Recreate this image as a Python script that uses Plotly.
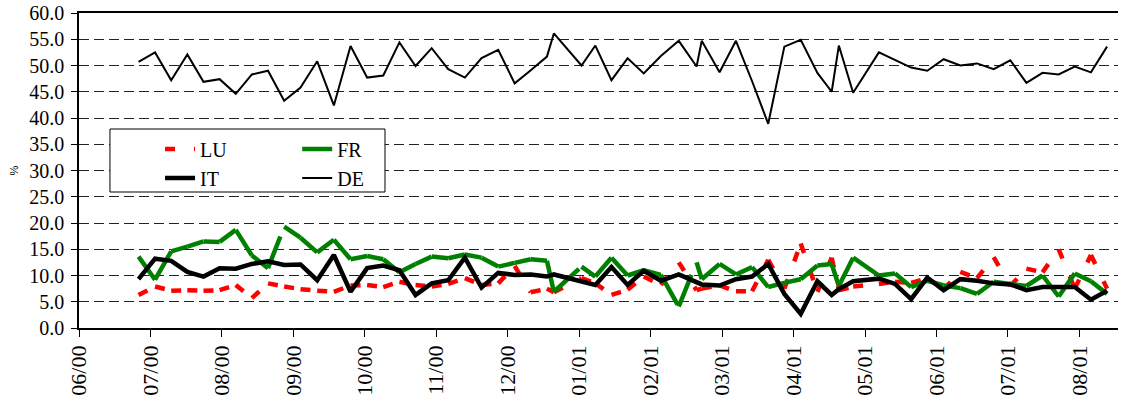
import calendar
import plotly.graph_objects as go

dates = [
    "2000-06-26", "2000-07-03", "2000-07-10", "2000-07-17", "2000-07-24", "2000-07-31",
    "2000-08-07", "2000-08-14", "2000-08-21", "2000-08-28",
    "2000-09-04", "2000-09-11", "2000-09-18", "2000-09-25",
    "2000-10-02", "2000-10-09", "2000-10-16", "2000-10-23", "2000-10-30",
    "2000-11-06", "2000-11-13", "2000-11-20", "2000-11-27",
    "2000-12-04", "2000-12-11", "2000-12-18", "2000-12-21",
    "2001-01-02", "2001-01-08", "2001-01-15", "2001-01-22", "2001-01-29",
    "2001-02-05", "2001-02-12", "2001-02-19", "2001-02-21", "2001-02-28",
    "2001-03-07", "2001-03-14", "2001-03-21", "2001-03-28",
    "2001-04-04", "2001-04-11", "2001-04-17", "2001-04-20", "2001-04-26",
    "2001-05-07", "2001-05-14", "2001-05-21", "2001-05-28",
    "2001-06-04", "2001-06-11", "2001-06-18", "2001-06-25",
    "2001-07-02", "2001-07-09", "2001-07-16", "2001-07-23", "2001-07-30",
    "2001-08-06", "2001-08-13",
]

DE = [50.7, 52.5, 47.2, 52.1, 46.9, 47.4, 44.6, 48.3, 49.0, 43.3,
      45.8, 50.8, 42.4, 53.7, 47.7, 48.1, 54.4, 49.9, 53.3, 49.3,
      47.7, 51.4, 53.0, 46.6, 49.1, 51.7, 56.1, 50.0, 53.8, 47.2,
      51.4, 48.5, 51.8, 54.7, 49.8, 54.7, 48.7, 54.7, 47.0, 38.9,
      53.6, 54.9, 48.6, 45.0, 53.8, 44.8, 52.5, 51.0, 49.6, 49.0,
      51.2, 50.0, 50.4, 49.3, 51.0, 46.7, 48.6, 48.3, 49.8, 48.7, 53.6]

IT = [9.3, 13.2, 12.8, 10.7, 9.8, 11.4, 11.3, 12.2, 12.7, 12.0,
      12.1, 9.1, 13.9, 6.9, 11.4, 11.9, 11.0, 6.3, 8.5, 9.1,
      13.4, 7.7, 10.5, 10.1, 10.2, 9.8, 10.2, 9.0, 8.2, 11.6,
      8.2, 10.9, 9.0, 10.2, 8.8, 8.3, 8.1, 9.3, 9.8, 12.2,
      6.5, 2.7, 8.9, 6.3, 7.4, 8.9, 9.4, 8.4, 5.5, 9.6,
      7.2, 9.3, 9.0, 8.5, 8.3, 7.2, 7.8, 7.8, 7.8, 5.4, 7.1]

FR = [13.6, 9.2, 14.6, 15.5, 16.5, 16.4, 18.7, 13.8, 11.4, 19.3,
      17.2, 14.4, 16.8, 13.1, 13.7, 13.1, 10.6, 12.2, 13.6, 13.3,
      14.0, 13.4, 11.7, 12.4, 13.1, 12.8, 6.9, 11.7, 9.8, 13.4,
      10.0, 11.0, 10.1, 4.1, 12.5, 9.3, 12.2, 10.2, 11.6, 7.8,
      8.6, 9.3, 11.9, 12.2, 8.0, 13.4, 10.0, 10.4, 7.8, 9.0,
      8.1, 7.6, 6.5, 8.8, 8.4, 8.0, 10.0, 6.0, 10.4, 8.9, 6.5]

LU = [6.3, 7.9, 7.1, 7.2, 7.1, 7.2, 8.2, 5.7, 8.5, 7.9,
      7.4, 7.1, 6.9, 8.1, 8.2, 7.8, 8.8, 8.2, 7.9, 8.4,
      9.5, 8.2, 8.5, 11.8, 6.8, 7.5, 6.8, 9.5, 8.5, 6.3,
      7.3, 9.8, 8.2, 12.5, 7.2, 7.5, 8.1, 7.0, 7.0, 13.0,
      7.5, 16.1, 6.9, 13.4, 7.2, 7.9, 8.4, 8.8, 8.6, 9.5,
      7.4, 10.7, 9.5, 13.5, 8.0, 11.3, 10.6, 15.0, 7.5, 13.9, 7.5]

month_labels = ["06/00", "07/00", "08/00", "09/00", "10/00", "11/00", "12/00",
                "01/01", "02/01", "03/01", "04/01", "05/01", "06/01", "07/01", "08/01"]


def month_pos(s):
    """Position on an axis where every calendar month has the same width."""
    y, m, d = map(int, s.split("-"))
    idx = (y - 2000) * 12 + (m - 6)
    return idx + (d - 1) / calendar.monthrange(y, m)[1]


x = [month_pos(s) for s in dates]
SERIF = "Liberation Serif, Times New Roman, serif"

fig = go.Figure()


def add_segmented(values, name, color, width, dash, legend):
    # dash pattern restarts at every data point, like the original chart
    for i in range(len(x) - 1):
        fig.add_trace(go.Scatter(
            x=[x[i], x[i + 1]], y=[values[i], values[i + 1]], name=name,
            mode="lines", legend=legend, legendgroup=name, showlegend=(i == 0),
            line=dict(color=color, width=width, dash=dash), hoverinfo="skip"))


add_segmented(LU, "LU", "#ff0000", 4.5, "10px,19px", "legend")
add_segmented(FR, "FR", "#008000", 4.5, "34px,19px", "legend2")
fig.add_trace(go.Scatter(x=x, y=IT, name="IT", mode="lines", legend="legend",
                         line=dict(color="#000000", width=4.5)))
fig.add_trace(go.Scatter(x=x, y=DE, name="DE", mode="lines", legend="legend2",
                         line=dict(color="#000000", width=2)))

leg_common = dict(font=dict(family=SERIF, size=20, color="black"),
                  bgcolor="rgba(0,0,0,0)", borderwidth=0, yanchor="top",
                  xanchor="left", orientation="v", tracegroupgap=0,
                  traceorder="normal")

fig.update_layout(
    width=1125, height=401,
    margin=dict(l=79, r=7, t=13, b=73),
    paper_bgcolor="white", plot_bgcolor="white",
    showlegend=True,
    legend=dict(x=0.078, y=0.63, **leg_common),
    legend2=dict(x=0.21, y=0.63, **leg_common),
    xaxis=dict(range=[0, 14.54], tickmode="array", tickvals=list(range(len(month_labels))),
               ticktext=month_labels, tickangle=-90, ticks="outside", ticklen=7,
               tickcolor="black", showline=True, linecolor="black", linewidth=1.5,
               mirror=True, showgrid=False, zeroline=False, automargin=False,
               ticklabeloverflow="allow",
               tickfont=dict(family=SERIF, size=22, color="black")),
    yaxis=dict(range=[0, 60], dtick=5, tickformat=".1f", ticks="outside", ticklen=6,
               tickcolor="black", showline=True, linecolor="black", linewidth=1.5,
               showgrid=True, gridcolor="#222222", gridwidth=1, griddash="10px,5px",
               zeroline=False, automargin=False, ticklabelstandoff=3,
               ticklabeloverflow="allow",
               tickfont=dict(family=SERIF, size=20, color="black")),
    shapes=[dict(type="rect", xref="paper", yref="paper", x0=0.0298, x1=0.2945,
                 y0=0.4317, y1=0.6317, fillcolor="white",
                 line=dict(color="black", width=1), layer="above")],
    annotations=[dict(text="%", xref="paper", yref="paper", x=-0.0626, y=0.5,
                      xanchor="center", yanchor="middle",
                      showarrow=False, textangle=-90,
                      font=dict(family="Arial, sans-serif", size=11, color="black"))],
)

# remove the browser's default page margin so the figure fills the window exactly
fig.write_html("out.html", config={"displayModeBar": False},
               post_script="document.body.style.margin='0';")
